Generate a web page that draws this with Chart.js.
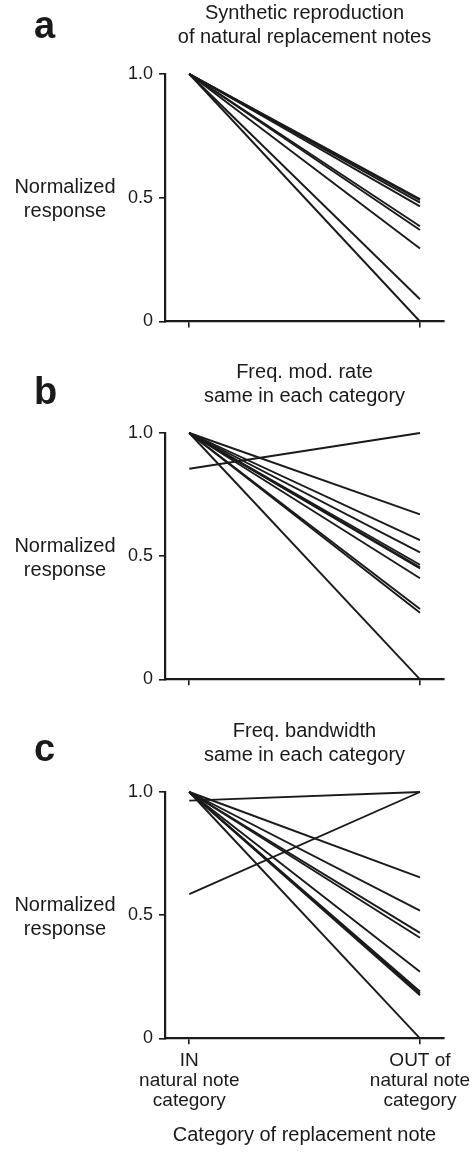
<!DOCTYPE html>
<html>
<head>
<meta charset="utf-8">
<script src="https://cdn.jsdelivr.net/npm/chart.js@4"></script>
<style>
body { margin: 0; background: #fff; }
#page { position: relative; width: 472px; height: 1155px; overflow: hidden; font-family: 'Liberation Sans', Arial, sans-serif; color: #1a1a1a; }
.panel { position: absolute; left: 0; width: 472px; }
.panel canvas { position: absolute; left: 0; top: 0; }
.letter { position: absolute; left: 34px; font-weight: bold; font-size: 38px; line-height: 38px; }
.ylab { position: absolute; left: 0; width: 130px; top: 174px; text-align: center; font-size: 20px; line-height: 24px; }
</style>
</head>
<body>
<div id="page">
  <div class="panel" style="top:0px">
    <canvas id="chartA" width="472" height="345"></canvas>
    <div class="letter" style="top:6px">a</div>
    <div class="ylab">Normalized<br>response</div>
  </div>
  <div class="panel" style="top:359px">
    <canvas id="chartB" width="472" height="345"></canvas>
    <div class="letter" style="top:13px">b</div>
    <div class="ylab">Normalized<br>response</div>
  </div>
  <div class="panel" style="top:718px">
    <canvas id="chartC" width="472" height="437"></canvas>
    <div class="letter" style="top:11px">c</div>
    <div class="ylab">Normalized<br>response</div>
  </div>
</div>
<script>
// tick positions / labels
var xTicks = [0, 1];
var yTicks = [0, 0.5, 1];
var xLabels = [["IN", "natural note", "category"], ["OUT of", "natural note", "category"]];

// panel a: synthetic reproduction
var aIn = [1, 1, 1, 1, 1, 1, 1, 1, 1];
var aOut = [0.495, 0.49, 0.48, 0.465, 0.385, 0.37, 0.295, 0.09, 0];

// panel b: freq. mod. rate same
var bIn = [0.855, 1, 1, 1, 1, 1, 1, 1, 1, 1, 1];
var bOut = [1, 0.67, 0.565, 0.515, 0.465, 0.455, 0.45, 0.41, 0.285, 0.27, 0];

// panel c: freq. bandwidth same
var cIn = [0.965, 0.585, 1, 1, 1, 1, 1, 1, 1, 1, 1];
var cOut = [1, 1, 0.653, 0.518, 0.428, 0.408, 0.27, 0.19, 0.182, 0.175, 0];

var ink = '#1a1a1a';
Chart.defaults.font.family = "'Liberation Sans', Arial, sans-serif";
Chart.defaults.color = ink;

function makeChart(id, title, inVals, outVals, height, plotBottom, bottomPad, showLabels) {
    var datasets = inVals.map(function (v, i) {
        return {
            data: [{x: 0, y: v}, {x: 1, y: outVals[i]}],
            borderColor: ink,
            borderWidth: 1.9,
            pointRadius: 0,
            clip: false
        };
    });
    new Chart(id, {
        type: 'line',
        data: { datasets: datasets },
        options: {
            responsive: false,
            animation: false,
            layout: { padding: { top: 0, left: 0, right: 28, bottom: bottomPad } },
            plugins: {
                legend: { display: false },
                tooltip: { enabled: false },
                title: {
                    display: true,
                    text: title,
                    fullSize: false,
                    color: ink,
                    font: { size: 20, weight: 'normal', lineHeight: 1.175 },
                    padding: { top: 1.75, bottom: 25.25 }
                }
            },
            scales: {
                x: {
                    type: 'linear',
                    min: -0.1053,
                    max: 1.1041,
                    afterBuildTicks: function (s) { s.ticks = xTicks.map(function (v) { return {value: v}; }); },
                    afterFit: function (s) {
                        s.height = height - plotBottom - bottomPad;
                        s.paddingLeft = 0;
                        s.paddingRight = 0;
                    },
                    grid: { drawOnChartArea: false, color: ink, lineWidth: 1.6, tickLength: 6 },
                    border: { color: ink, width: 2.2 },
                    ticks: {
                        maxRotation: 0,
                        autoSkip: false,
                        padding: 6,
                        color: ink,
                        font: { size: 19, lineHeight: '20px' },
                        callback: function (v, i) { return showLabels ? xLabels[i] : ''; }
                    },
                    title: {
                        display: showLabels,
                        text: 'Category of replacement note',
                        color: ink,
                        font: { size: 20 },
                        padding: 0
                    }
                },
                y: {
                    min: 0,
                    max: 1,
                    afterBuildTicks: function (s) { s.ticks = yTicks.map(function (v) { return {value: v}; }); },
                    afterFit: function (s) { s.width = 165; },
                    grid: { drawOnChartArea: false, color: ink, lineWidth: 1.6, tickLength: 6 },
                    border: { color: ink, width: 2.2 },
                    ticks: {
                        padding: 6,
                        color: ink,
                        font: { size: 18 },
                        callback: function (v) { return v === 0 ? '0' : v.toFixed(1); }
                    }
                }
            }
        }
    });
}

makeChart('chartA', ['Synthetic reproduction', 'of natural replacement notes'], aIn, aOut, 345, 321.5, 0, false);
makeChart('chartB', ['Freq. mod. rate', 'same in each category'], bIn, bOut, 345, 320.3, 0, false);
makeChart('chartC', ['Freq. bandwidth', 'same in each category'], cIn, cOut, 437, 320.3, 8, true);
</script>
</body>
</html>
